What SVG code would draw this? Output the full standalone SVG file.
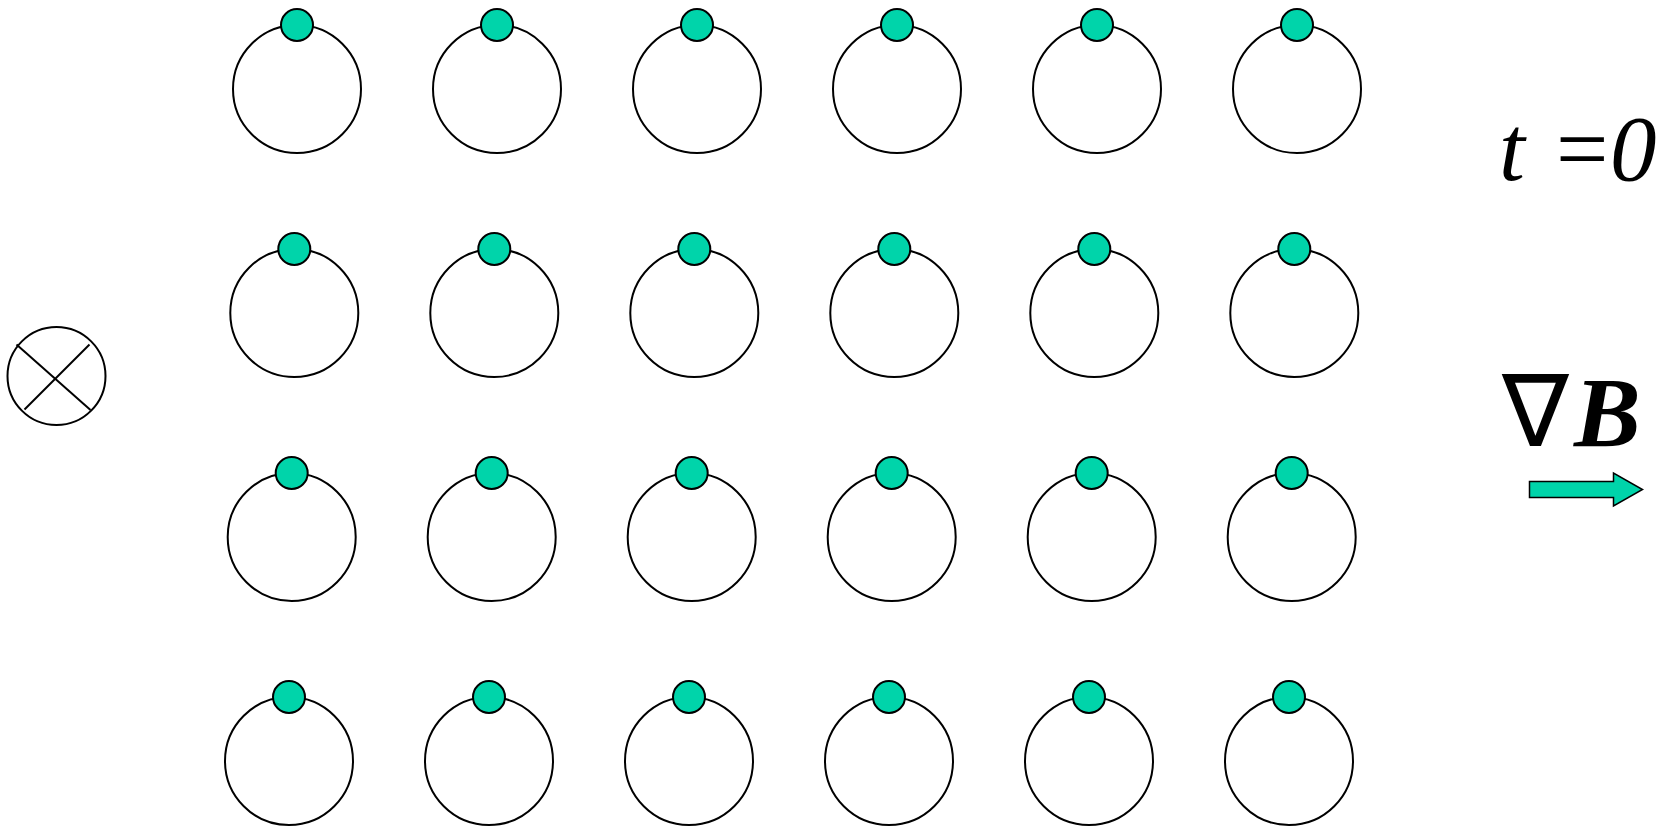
<svg xmlns="http://www.w3.org/2000/svg" width="1671" height="826" viewBox="0 0 1671 826" shape-rendering="geometricPrecision">
<style>
.ring{fill:#fff;stroke:#000;stroke-width:2}
.dot{fill:#00D4AA;stroke:#000;stroke-width:2}
.ln{stroke:#000;stroke-width:2;fill:none}
.tx{font-family:"Liberation Serif","Times New Roman",serif;fill:#000}
</style>
<rect width="1671" height="826" fill="#fff"/>
<g id="field-symbol">
<path class="ring" d="M7.5,376 A49,49 0 1,1 105.5,376 A49,49 0 1,1 7.5,376 Z"/>
<line class="ln" x1="16.5" y1="344.5" x2="90.5" y2="410"/>
<line class="ln" x1="89.5" y1="344.5" x2="24.5" y2="409.5"/>
</g>
<g id="row1">
<path class="ring" d="M233,89 a64,64 0 1,1 128,0 a64,64 0 1,1 -128,0 Z"/><circle class="dot" cx="297" cy="25" r="16"/>
<path class="ring" d="M433,89 a64,64 0 1,1 128,0 a64,64 0 1,1 -128,0 Z"/><circle class="dot" cx="497" cy="25" r="16"/>
<path class="ring" d="M633,89 a64,64 0 1,1 128,0 a64,64 0 1,1 -128,0 Z"/><circle class="dot" cx="697" cy="25" r="16"/>
<path class="ring" d="M833,89 a64,64 0 1,1 128,0 a64,64 0 1,1 -128,0 Z"/><circle class="dot" cx="897" cy="25" r="16"/>
<path class="ring" d="M1033,89 a64,64 0 1,1 128,0 a64,64 0 1,1 -128,0 Z"/><circle class="dot" cx="1097" cy="25" r="16"/>
<path class="ring" d="M1233,89 a64,64 0 1,1 128,0 a64,64 0 1,1 -128,0 Z"/><circle class="dot" cx="1297" cy="25" r="16"/>
</g>
<g id="row2">
<path class="ring" d="M230.3,313 a64,64 0 1,1 128,0 a64,64 0 1,1 -128,0 Z"/><circle class="dot" cx="294.3" cy="249" r="16"/>
<path class="ring" d="M430.3,313 a64,64 0 1,1 128,0 a64,64 0 1,1 -128,0 Z"/><circle class="dot" cx="494.3" cy="249" r="16"/>
<path class="ring" d="M630.3,313 a64,64 0 1,1 128,0 a64,64 0 1,1 -128,0 Z"/><circle class="dot" cx="694.3" cy="249" r="16"/>
<path class="ring" d="M830.3,313 a64,64 0 1,1 128,0 a64,64 0 1,1 -128,0 Z"/><circle class="dot" cx="894.3" cy="249" r="16"/>
<path class="ring" d="M1030.3,313 a64,64 0 1,1 128,0 a64,64 0 1,1 -128,0 Z"/><circle class="dot" cx="1094.3" cy="249" r="16"/>
<path class="ring" d="M1230.3,313 a64,64 0 1,1 128,0 a64,64 0 1,1 -128,0 Z"/><circle class="dot" cx="1294.3" cy="249" r="16"/>
</g>
<g id="row3">
<path class="ring" d="M227.7,537 a64,64 0 1,1 128,0 a64,64 0 1,1 -128,0 Z"/><circle class="dot" cx="291.7" cy="473" r="16"/>
<path class="ring" d="M427.7,537 a64,64 0 1,1 128,0 a64,64 0 1,1 -128,0 Z"/><circle class="dot" cx="491.7" cy="473" r="16"/>
<path class="ring" d="M627.7,537 a64,64 0 1,1 128,0 a64,64 0 1,1 -128,0 Z"/><circle class="dot" cx="691.7" cy="473" r="16"/>
<path class="ring" d="M827.7,537 a64,64 0 1,1 128,0 a64,64 0 1,1 -128,0 Z"/><circle class="dot" cx="891.7" cy="473" r="16"/>
<path class="ring" d="M1027.7,537 a64,64 0 1,1 128,0 a64,64 0 1,1 -128,0 Z"/><circle class="dot" cx="1091.7" cy="473" r="16"/>
<path class="ring" d="M1227.7,537 a64,64 0 1,1 128,0 a64,64 0 1,1 -128,0 Z"/><circle class="dot" cx="1291.7" cy="473" r="16"/>
</g>
<g id="row4">
<path class="ring" d="M225,761 a64,64 0 1,1 128,0 a64,64 0 1,1 -128,0 Z"/><circle class="dot" cx="289" cy="697" r="16"/>
<path class="ring" d="M425,761 a64,64 0 1,1 128,0 a64,64 0 1,1 -128,0 Z"/><circle class="dot" cx="489" cy="697" r="16"/>
<path class="ring" d="M625,761 a64,64 0 1,1 128,0 a64,64 0 1,1 -128,0 Z"/><circle class="dot" cx="689" cy="697" r="16"/>
<path class="ring" d="M825,761 a64,64 0 1,1 128,0 a64,64 0 1,1 -128,0 Z"/><circle class="dot" cx="889" cy="697" r="16"/>
<path class="ring" d="M1025,761 a64,64 0 1,1 128,0 a64,64 0 1,1 -128,0 Z"/><circle class="dot" cx="1089" cy="697" r="16"/>
<path class="ring" d="M1225,761 a64,64 0 1,1 128,0 a64,64 0 1,1 -128,0 Z"/><circle class="dot" cx="1289" cy="697" r="16"/>
</g>
<g id="time-label">
<text class="tx" font-size="93" y="180"><tspan x="1499" font-style="italic">t</tspan><tspan x="1556">=</tspan><tspan x="1610" font-style="italic">0</tspan></text>
</g>
<g id="gradient-label">
<text class="tx" font-size="100" y="446"><tspan x="1502">∇</tspan><tspan x="1574" font-style="italic" font-weight="bold">B</tspan></text>
<polygon points="1529.5,481.5 1613.5,481.5 1613.5,473 1642.5,489.5 1613.5,506 1613.5,497.5 1529.5,497.5" fill="#00D4AA" stroke="#000" stroke-width="1.5"/>
</g>
</svg>
